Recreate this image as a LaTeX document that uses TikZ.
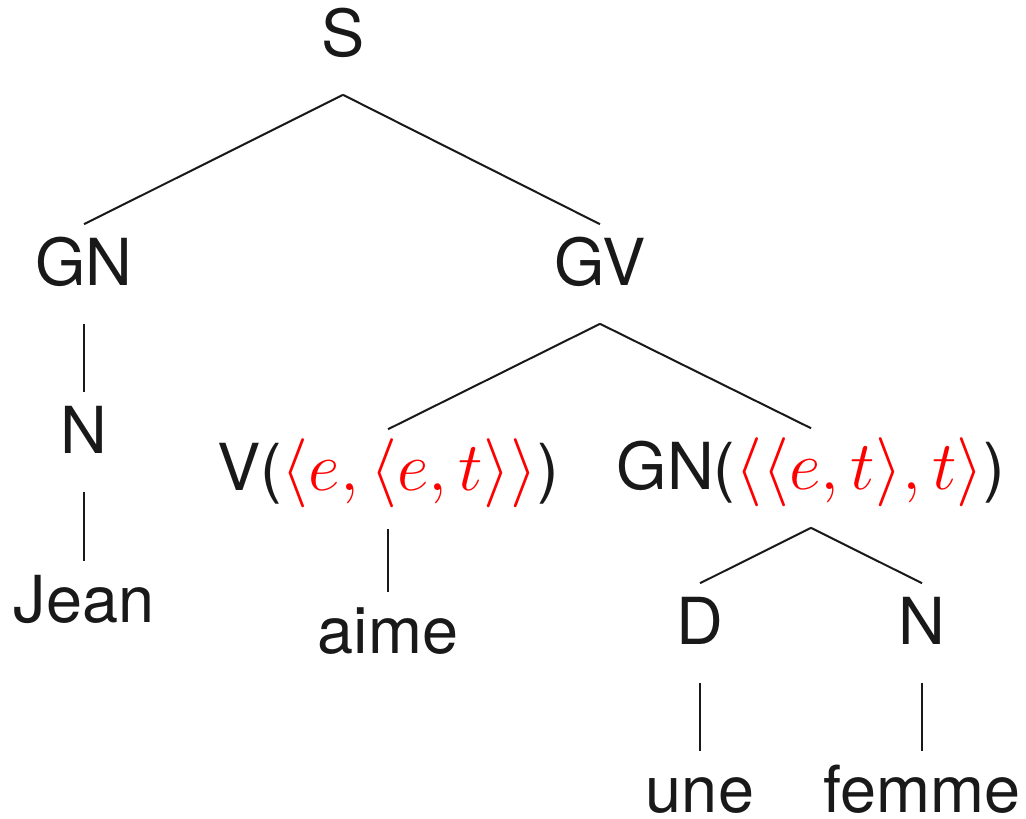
\documentclass[tikz,border=0pt]{standalone}
\usepackage{fontspec}
\setmainfont{TeX Gyre Heros}
\newcommand{\typ}[1]{\textcolor{red}{$#1$}}
\begin{document}
\begin{tikzpicture}[x=0.25pt,y=-0.25pt,
  lbl/.style={anchor=base, inner sep=0pt, text height=15pt, text depth=9.5pt,
    font=\fontsize{16.2}{20}\selectfont, text=black!90},
  leaf/.style={lbl, text depth=0pt},
  edge/.style={draw=black!90, line width=0.5pt}]
\useasboundingbox (0,0) rectangle (1026,818);
% categories and words, placed on their baselines
\node[lbl]  (S)    at (343,56)  {S};
\node[lbl]  (GN)   at (84,285)  {GN};
\node[lbl]  (GV)   at (600,285) {GV};
\node[lbl]  (N)    at (84,453)  {N};
\node[leaf] (Jean) at (84,622)  {Jean};
\node[lbl]  (V)    at (388,490) {V(\typ{\langle e,\langle e,t\rangle\rangle})};
\node[lbl]  (GNo)  at (811,489) {GN(\typ{\langle\langle e,t\rangle,t\rangle})};
\node[leaf] (aime) at (388,653) {aime};
\node[lbl]  (D)    at (700,644) {D};
\node[lbl]  (No)   at (922,644) {N};
\node[leaf] (une)  at (700,812) {une};
\node[leaf] (femme) at (922,812) {femme};
% branches
\draw[edge] (S.south) -- (GN.north);
\draw[edge] (S.south) -- (GV.north);
\draw[edge] (GN.south) -- (N.north);
\draw[edge] (N.south) -- (Jean.north);
\draw[edge] (GV.south) -- (V.north);
\draw[edge] (GV.south) -- (GNo.north);
\draw[edge] (V.south) -- (aime.north);
\draw[edge] (GNo.south) -- (D.north);
\draw[edge] (GNo.south) -- (No.north);
\draw[edge] (D.south) -- (une.north);
\draw[edge] (No.south) -- (femme.north);
\end{tikzpicture}
\end{document}
